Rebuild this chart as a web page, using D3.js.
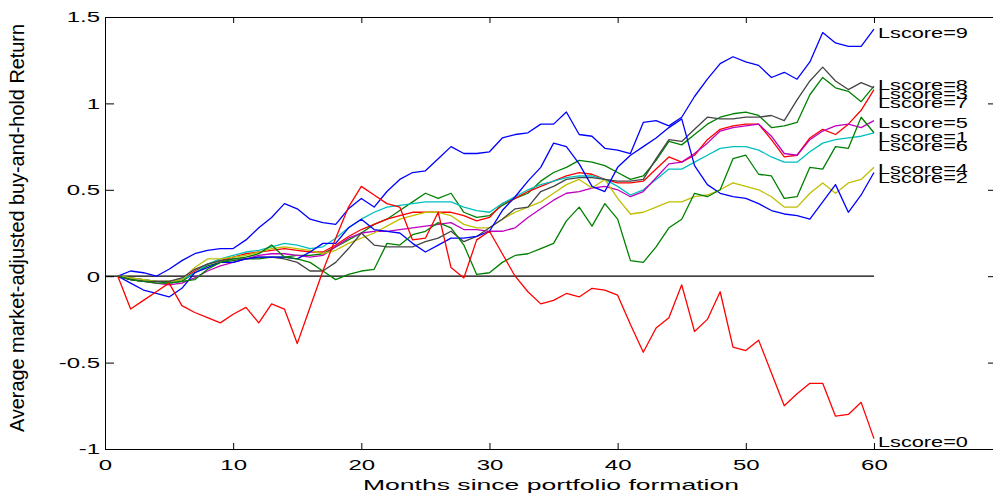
<!DOCTYPE html>
<html>
<head>
<meta charset="utf-8">
<script src="https://cdn.jsdelivr.net/npm/d3@7"></script>
<style>
  html, body { margin: 0; padding: 0; background: #fff; overflow: hidden; }
  svg { display: block; }
</style>
</head>
<body>
<svg id="chart" width="993" height="497"></svg>
<script>
// months since portfolio formation
var months = d3.range(1, 61);

// average market-adjusted buy-and-hold return, one array per Lscore
var lscore0 = [0, -0.19, -0.14, -0.09, -0.04, -0.17, -0.21, -0.24, -0.27, -0.22,
  -0.18, -0.27, -0.16, -0.19, -0.39, -0.18, 0.03, 0.22, 0.40, 0.52,
  0.47, 0.42, 0.40, 0.21, 0.22, 0.37, 0.05, -0.01, 0.21, 0.26,
  0.13, 0.0, -0.09, -0.16, -0.14, -0.10, -0.12, -0.07, -0.08, -0.11,
  -0.28, -0.44, -0.30, -0.24, -0.05, -0.32, -0.25, -0.09, -0.41, -0.43,
  -0.37, -0.56, -0.75, -0.68, -0.62, -0.62, -0.81, -0.80, -0.73, -0.94];
var lscore1 = [0, -0.02, -0.03, -0.04, -0.04, -0.03, -0.02, 0.04, 0.08, 0.10,
  0.11, 0.13, 0.18, 0.11, 0.10, 0.08, 0.03, -0.02, 0.01, 0.03,
  0.04, 0.19, 0.18, 0.24, 0.26, 0.31, 0.28, 0.18, 0.01, 0.02,
  0.08, 0.12, 0.13, 0.16, 0.19, 0.32, 0.40, 0.29, 0.42, 0.33,
  0.09, 0.08, 0.17, 0.28, 0.33, 0.48, 0.46, 0.50, 0.68, 0.70,
  0.59, 0.58, 0.45, 0.46, 0.63, 0.62, 0.75, 0.74, 0.92, 0.83];
var lscore2 = [0, -0.04, -0.08, -0.10, -0.12, -0.07, 0.02, 0.05, 0.08, 0.08,
  0.10, 0.11, 0.11, 0.11, 0.10, 0.14, 0.19, 0.19, 0.28, 0.33,
  0.27, 0.26, 0.25, 0.19, 0.14, 0.18, 0.22, 0.22, 0.23, 0.26,
  0.38, 0.46, 0.55, 0.63, 0.77, 0.75, 0.65, 0.52, 0.49, 0.63,
  0.70, 0.75, 0.80, 0.86, 0.91, 0.64, 0.53, 0.48, 0.46, 0.45,
  0.42, 0.38, 0.36, 0.35, 0.33, 0.43, 0.53, 0.37, 0.47, 0.60];
var lscore3 = [0, -0.02, -0.03, -0.03, -0.03, -0.01, 0.04, 0.07, 0.09, 0.10,
  0.10, 0.11, 0.11, 0.10, 0.08, 0.03, 0.03, 0.08, 0.16, 0.25,
  0.18, 0.17, 0.17, 0.17, 0.20, 0.22, 0.26, 0.20, 0.23, 0.28,
  0.33, 0.39, 0.40, 0.49, 0.52, 0.56, 0.57, 0.57, 0.56, 0.55,
  0.55, 0.56, 0.68, 0.79, 0.78, 0.85, 0.92, 0.91, 0.91, 0.92,
  0.92, 0.93, 0.90, 1.02, 1.13, 1.21, 1.13, 1.08, 1.12, 1.09];
var lscore4 = [0, -0.01, -0.02, -0.03, -0.03, -0.02, 0.05, 0.10, 0.10, 0.11,
  0.12, 0.14, 0.16, 0.17, 0.16, 0.15, 0.13, 0.15, 0.19, 0.22,
  0.25, 0.29, 0.33, 0.35, 0.37, 0.37, 0.35, 0.30, 0.28, 0.28,
  0.33, 0.37, 0.40, 0.43, 0.48, 0.53, 0.56, 0.51, 0.56, 0.45,
  0.36, 0.37, 0.40, 0.43, 0.43, 0.46, 0.47, 0.50, 0.54, 0.52,
  0.50, 0.46, 0.40, 0.40, 0.48, 0.54, 0.48, 0.54, 0.56, 0.63];
var lscore5 = [0, -0.02, -0.03, -0.04, -0.05, -0.04, -0.01, 0.03, 0.06, 0.08,
  0.10, 0.12, 0.13, 0.13, 0.12, 0.11, 0.12, 0.17, 0.22, 0.25,
  0.26, 0.26, 0.27, 0.28, 0.29, 0.30, 0.31, 0.27, 0.27, 0.26,
  0.26, 0.28, 0.34, 0.39, 0.44, 0.48, 0.49, 0.51, 0.52, 0.50,
  0.46, 0.49, 0.57, 0.65, 0.66, 0.71, 0.77, 0.84, 0.86, 0.87,
  0.88, 0.81, 0.71, 0.70, 0.79, 0.84, 0.87, 0.88, 0.86, 0.90];
var lscore6 = [0, -0.01, -0.02, -0.03, -0.03, -0.02, 0.02, 0.07, 0.10, 0.12,
  0.14, 0.15, 0.17, 0.19, 0.18, 0.16, 0.17, 0.22, 0.28, 0.33,
  0.37, 0.40, 0.41, 0.42, 0.43, 0.43, 0.43, 0.40, 0.38, 0.37,
  0.42, 0.46, 0.50, 0.53, 0.55, 0.57, 0.58, 0.58, 0.56, 0.52,
  0.47, 0.50, 0.56, 0.62, 0.62, 0.66, 0.70, 0.74, 0.75, 0.75,
  0.73, 0.69, 0.66, 0.66, 0.72, 0.77, 0.79, 0.80, 0.81, 0.83];
var lscore7 = [0, -0.01, -0.02, -0.03, -0.03, -0.02, 0.03, 0.07, 0.09, 0.11,
  0.13, 0.14, 0.15, 0.16, 0.15, 0.14, 0.14, 0.18, 0.23, 0.27,
  0.30, 0.33, 0.35, 0.37, 0.37, 0.37, 0.37, 0.35, 0.32, 0.34,
  0.42, 0.45, 0.49, 0.52, 0.55, 0.58, 0.60, 0.59, 0.56, 0.54,
  0.54, 0.55, 0.62, 0.69, 0.66, 0.70, 0.79, 0.85, 0.87, 0.88,
  0.88, 0.79, 0.69, 0.70, 0.80, 0.85, 0.82, 0.88, 0.96, 1.08];
var lscore8 = [0, -0.02, -0.03, -0.03, -0.04, -0.03, 0.02, 0.06, 0.08, 0.09,
  0.10, 0.10, 0.11, 0.11, 0.12, 0.12, 0.13, 0.17, 0.21, 0.25,
  0.30, 0.33, 0.38, 0.43, 0.48, 0.45, 0.48, 0.37, 0.34, 0.35,
  0.41, 0.45, 0.48, 0.55, 0.60, 0.63, 0.67, 0.66, 0.64, 0.60,
  0.56, 0.58, 0.67, 0.78, 0.76, 0.82, 0.88, 0.92, 0.94, 0.95,
  0.93, 0.86, 0.87, 0.89, 1.05, 1.15, 1.09, 1.07, 1.01, 1.10];
var lscore9 = [0, 0.03, 0.02, 0.0, 0.04, 0.09, 0.13, 0.15, 0.16, 0.16,
  0.21, 0.28, 0.34, 0.42, 0.39, 0.33, 0.31, 0.30, 0.39, 0.45,
  0.40, 0.49, 0.56, 0.60, 0.61, 0.68, 0.75, 0.71, 0.71, 0.72,
  0.80, 0.82, 0.83, 0.88, 0.88, 0.95, 0.82, 0.81, 0.74, 0.73,
  0.71, 0.89, 0.90, 0.87, 0.92, 1.04, 1.14, 1.23, 1.27, 1.24,
  1.22, 1.15, 1.18, 1.14, 1.24, 1.41, 1.35, 1.33, 1.33, 1.43];

// series names, drawn 9 first so that Lscore=0 ends up on top
var seriesNames = ["Lscore=9", "Lscore=8", "Lscore=7", "Lscore=6", "Lscore=5",
  "Lscore=4", "Lscore=3", "Lscore=2", "Lscore=1", "Lscore=0"];
var seriesValues = [lscore9, lscore8, lscore7, lscore6, lscore5,
  lscore4, lscore3, lscore2, lscore1, lscore0];
// value at which each name is written next to the line end
var labelValues = [1.41, 1.112, 1.005, 0.756, 0.892, 0.626, 1.06, 0.571, 0.808, -0.957];

// reference line at zero
var zeroMonths = [0, 60];
var zeroValues = [0, 0];

// axis ticks
var xTicks = [0, 10, 20, 30, 40, 50, 60];
var yTicks = [-1, -0.5, 0, 0.5, 1, 1.5];
var yTickLabels = ["-1", "-0.5", "0", "0.5", "1", "1.5"];

// MATLAB-like colour order
var colors = ["#0000ff", "#008000", "#ff0000", "#00bfbf", "#bf00bf",
  "#bfbf00", "#454545", "#0000ff", "#008000", "#ff0000"];

var font = "'Liberation Sans', Arial, Helvetica, sans-serif";
var stretch = 1.6;  // the original figure is stretched horizontally

var svg = d3.select("#chart");

var x = d3.scaleLinear().domain([0, 69.6]).range([105, 997]);
var y = d3.scaleLinear().domain([-1, 1.5]).range([449, 17]);

// axes (box on, ticks inward)
var axBottom = svg.append("g")
    .attr("transform", "translate(0," + y(-1) + ")")
    .call(d3.axisBottom(x).tickValues(xTicks).tickSizeInner(-6).tickSizeOuter(0).tickPadding(10));

var axTop = svg.append("g")
    .attr("transform", "translate(0," + y(1.5) + ")")
    .call(d3.axisTop(x).tickValues(xTicks).tickSizeInner(-6).tickSizeOuter(0).tickFormat(""));

var axLeft = svg.append("g")
    .attr("transform", "translate(" + x(0) + ",0)")
    .call(d3.axisLeft(y).tickValues(yTicks).tickSizeInner(-9).tickSizeOuter(0)
        .tickFormat(function (d, i) { return yTickLabels[i]; }));

var axRight = svg.append("g")
    .attr("transform", "translate(" + x(69.6) + ",0)")
    .call(d3.axisRight(y).tickValues(yTicks).tickSizeInner(-9).tickSizeOuter(0).tickFormat(""));

[axBottom, axTop, axLeft, axRight].forEach(function (g) {
    g.attr("font-family", font).attr("font-size", 15);
    g.selectAll("path, line").attr("stroke", "#000").attr("stroke-width", 1);
});

axBottom.selectAll("text")
    .attr("fill", "#000")
    .attr("transform", "scale(" + stretch + ",1)");

axLeft.selectAll("text")
    .attr("fill", "#000")
    .attr("x", -5 / stretch)
    .attr("transform", "scale(" + stretch + ",1)");

// zero line
var line = d3.line()
    .x(function (d, i) { return x(months[i]); })
    .y(function (d) { return y(d); });

svg.append("path")
    .datum(zeroValues)
    .attr("d", d3.line()
        .x(function (d, i) { return x(zeroMonths[i]); })
        .y(function (d) { return y(d); }))
    .attr("fill", "none")
    .attr("stroke", "#000")
    .attr("stroke-width", 1.2);

// one line per Lscore
svg.selectAll(".series")
    .data(seriesValues)
    .enter()
    .append("path")
    .attr("class", "series")
    .attr("d", line)
    .attr("fill", "none")
    .attr("stroke", function (d, i) { return colors[i]; })
    .attr("stroke-width", 1.3)
    .attr("stroke-linejoin", "round");

// series names at the right end
svg.selectAll(".lab")
    .data(seriesNames)
    .enter()
    .append("text")
    .attr("class", "lab")
    .attr("x", x(60) + 4)
    .attr("y", function (d, i) { return y(labelValues[i]); })
    .attr("dy", "0.36em")
    .attr("font-family", font)
    .attr("font-size", 15.5)
    .attr("textLength", 90)
    .attr("lengthAdjust", "spacingAndGlyphs")
    .attr("fill", "#000")
    .text(function (d) { return d; });

// axis titles
svg.append("text")
    .attr("x", (x(0) + x(69.6)) / 2)
    .attr("y", 490)
    .attr("text-anchor", "middle")
    .attr("font-family", font)
    .attr("font-size", 15)
    .attr("textLength", 376)
    .attr("lengthAdjust", "spacingAndGlyphs")
    .attr("fill", "#000")
    .text("Months since portfolio formation");

svg.append("text")
    .attr("transform", "translate(24,228) rotate(-90)")
    .attr("text-anchor", "middle")
    .attr("font-family", font)
    .attr("font-size", 21)
    .attr("textLength", 408)
    .attr("lengthAdjust", "spacingAndGlyphs")
    .attr("fill", "#000")
    .text("Average market-adjusted buy-and-hold Return");
</script>
</body>
</html>
